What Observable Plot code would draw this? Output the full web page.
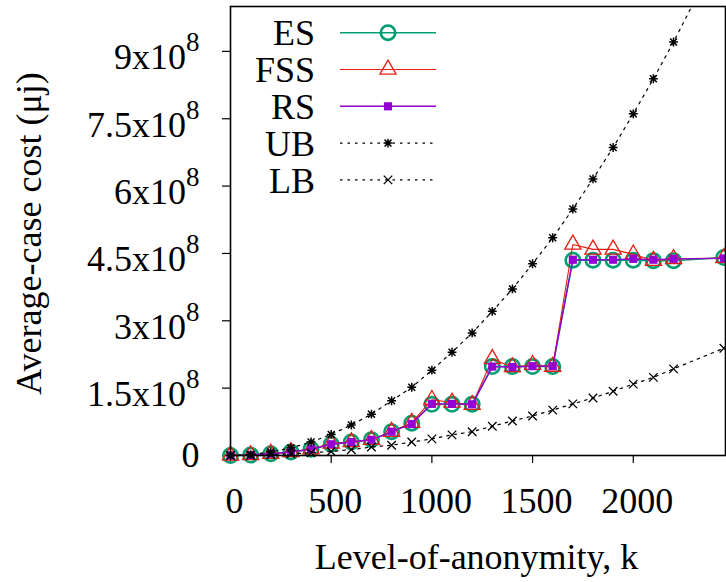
<!DOCTYPE html>
<html><head><meta charset="utf-8">
<script src="https://cdn.jsdelivr.net/npm/d3@7"></script>
<script src="https://cdn.jsdelivr.net/npm/@observablehq/plot@0.6"></script>
<style>
html,body{margin:0;padding:0;background:#fff;}
#chart{position:relative;width:726px;height:582px;overflow:hidden;}
</style></head><body><div id="chart"></div>
<script>
// ---- data (values in units of 1e8) ----
const k = [0,100,200,300,400,500,600,700,800,900,1000,1100,1200,1300,1400,1500,1600,1700,1800,1900,2000,2100,2200,2450];
const ES  = [0,0.01,0.04,0.08,0.14,0.25,0.30,0.35,0.53,0.72,1.14,1.14,1.14,1.98,1.98,1.98,1.98,4.35,4.35,4.35,4.35,4.34,4.34,4.41];
const FSS = [0,0.01,0.04,0.08,0.14,0.27,0.30,0.35,0.53,0.73,1.24,1.18,1.13,2.15,1.97,2.02,1.98,4.70,4.59,4.59,4.48,4.34,4.38,4.40];
const RS  = [0,0.01,0.04,0.08,0.14,0.25,0.30,0.35,0.53,0.70,1.15,1.15,1.14,1.98,1.97,1.99,1.99,4.36,4.36,4.36,4.38,4.36,4.38,4.39];
const UB  = [0,0.02,0.08,0.17,0.30,0.47,0.68,0.92,1.22,1.52,1.90,2.30,2.73,3.21,3.71,4.27,4.85,5.49,6.16,6.86,7.61,8.39,9.21,11.4];
const LB  = [0,0.004,0.016,0.04,0.06,0.09,0.13,0.19,0.23,0.30,0.37,0.46,0.53,0.65,0.77,0.88,1.01,1.15,1.28,1.43,1.59,1.74,1.93,2.39];
const unit = 1e8;

const seriesNames = ["ES","FSS","RS","UB","LB"];
const seriesValues = [ES, FSS, RS, UB, LB];
const seriesColors = ["#009e73","#e51e10","#9400d3","#000000","#000000"];

const xTicks = [0,500,1000,1500,2000];
const yTicks = [0,1.5e8,3e8,4.5e8,6e8,7.5e8,9e8];
const yTickLabels = ["0","1.5x10^8","3x10^8","4.5x10^8","6x10^8","7.5x10^8","9x10^8"];
const xLabel = "Level-of-anonymity, k";
const yLabel = "Average-case cost (\u03bcj)";

// ---- symbols (gnuplot-like) ----
const symStar = {draw(ctx, size){const r=Math.sqrt(size)*0.5, d=r*0.78;
  ctx.moveTo(-r,0);ctx.lineTo(r,0);ctx.moveTo(0,-r);ctx.lineTo(0,r);
  ctx.moveTo(-d,-d);ctx.lineTo(d,d);ctx.moveTo(-d,d);ctx.lineTo(d,-d);}};
const symX = {draw(ctx, size){const r=Math.sqrt(size)*0.5;
  ctx.moveTo(-r,-r);ctx.lineTo(r,r);ctx.moveTo(-r,r);ctx.lineTo(r,-r);}};

const styles = [
  {line:{strokeWidth:1.5}, dot:{symbol:d3.symbolCircle, r:7.2, fill:"none", strokeWidth:2.6}},
  {line:{strokeWidth:1.1}, dot:{symbol:d3.symbolTriangle, r:6.0, fill:"none", strokeWidth:1.3}},
  {line:{strokeWidth:1.4}, dot:{symbol:d3.symbolSquare, r:4.6, fill:"c", stroke:"none"}},
  {line:{strokeWidth:1.2, strokeDasharray:"2.5,5"}, dot:{symbol:symStar, r:5.0, fill:"none", strokeWidth:1.5}},
  {line:{strokeWidth:1.2, strokeDasharray:"2.5,5"}, dot:{symbol:symX, r:4.8, fill:"none", strokeWidth:1.3}}
];

const font = "'Liberation Serif','Times New Roman',serif";
const marks = [];
seriesNames.forEach((name, si) => {
  const data = k.map((x, i) => ({k: x, v: seriesValues[si][i] * unit}));
  const c = seriesColors[si];
  const st = styles[si];
  marks.push(Plot.line(data, {x: "k", y: "v", stroke: c, clip: true, ...st.line}));
  const dopt = {...st.dot};
  if (dopt.fill === "c") dopt.fill = c; else dopt.stroke = c;
  marks.push(Plot.dot(data, {x: "k", y: "v", ...dopt}));
});
const labelMap = new Map(yTicks.map((t, i) => [t, yTickLabels[i]]));

const chart = Plot.plot({
  width: 726, height: 582,
  marginLeft: 230, marginRight: 1, marginTop: 6, marginBottom: 127,
  style: {fontFamily: font, fontSize: "36px", background: "#fff", color: "#000", overflow: "visible"},
  x: {domain: [0, 2458]},
  y: {domain: [0, 1e9]},
  marks: [
    Plot.axisX(xTicks, {tickSize: 8, tickPadding: 24, fontSize: 36, label: null, strokeWidth: 1.2, tickFormat: d => String(d)}),
    Plot.axisY(yTicks, {tickSize: 8, tickPadding: 23, fontSize: 36, label: null, strokeWidth: 1.2, tickFormat: d => labelMap.get(d)}),
    ...marks,
    Plot.frame({stroke: "#000", strokeWidth: 1.6}),
    Plot.text([xLabel], {frameAnchor: "bottom", textAnchor: "middle", lineAnchor: "middle", dx: -1.5, dy: 101.5, fontSize: 36}),
    Plot.text([yLabel], {frameAnchor: "left", textAnchor: "middle", lineAnchor: "middle", rotate: -90, dx: -201.5, dy: 2.5, fontSize: 36})
  ]
});
document.getElementById("chart").appendChild(chart);

// superscripts in y tick labels
const NS = "http://www.w3.org/2000/svg";
chart.querySelectorAll('g[aria-label="y-axis tick label"] text').forEach(t => {
  const m = t.textContent.match(/^(.*)\^(.*)$/);
  if (!m) return;
  t.textContent = "";
  const b = document.createElementNS(NS, "tspan");
  b.setAttribute("dy", "6.5"); b.textContent = m[1];
  const s = document.createElementNS(NS, "tspan");
  s.setAttribute("dy", "-18"); s.setAttribute("font-size", "27"); s.textContent = m[2];
  t.appendChild(b); t.appendChild(s);
});
const xl = chart.querySelector('g[aria-label="x-axis tick label"]');
if (xl) xl.setAttribute("transform", (xl.getAttribute("transform") || "") + " translate(4,0)");

// legend (inside plot, top-left)
const lg = d3.select(chart).append("g").attr("font-family", font).attr("font-size", 36);
seriesNames.forEach((name, i) => {
  const cy = 32.7 + i * 36.8;
  const st = styles[i], c = seriesColors[i];
  lg.append("text").attr("x", 315).attr("y", cy).attr("dy", "0.35em").attr("text-anchor", "end").text(name);
  lg.append("line").attr("x1", 340).attr("x2", 436).attr("y1", cy).attr("y2", cy)
    .attr("stroke", c).attr("stroke-width", st.line.strokeWidth)
    .attr("stroke-dasharray", st.line.strokeDasharray || null);
  const p = lg.append("path").attr("transform", `translate(388,${cy})`)
    .attr("d", d3.symbol(st.dot.symbol, Math.PI * st.dot.r * st.dot.r)());
  if (st.dot.fill === "c") p.attr("fill", c).attr("stroke", "none");
  else p.attr("fill", "none").attr("stroke", c).attr("stroke-width", st.dot.strokeWidth);
});
</script></body></html>
